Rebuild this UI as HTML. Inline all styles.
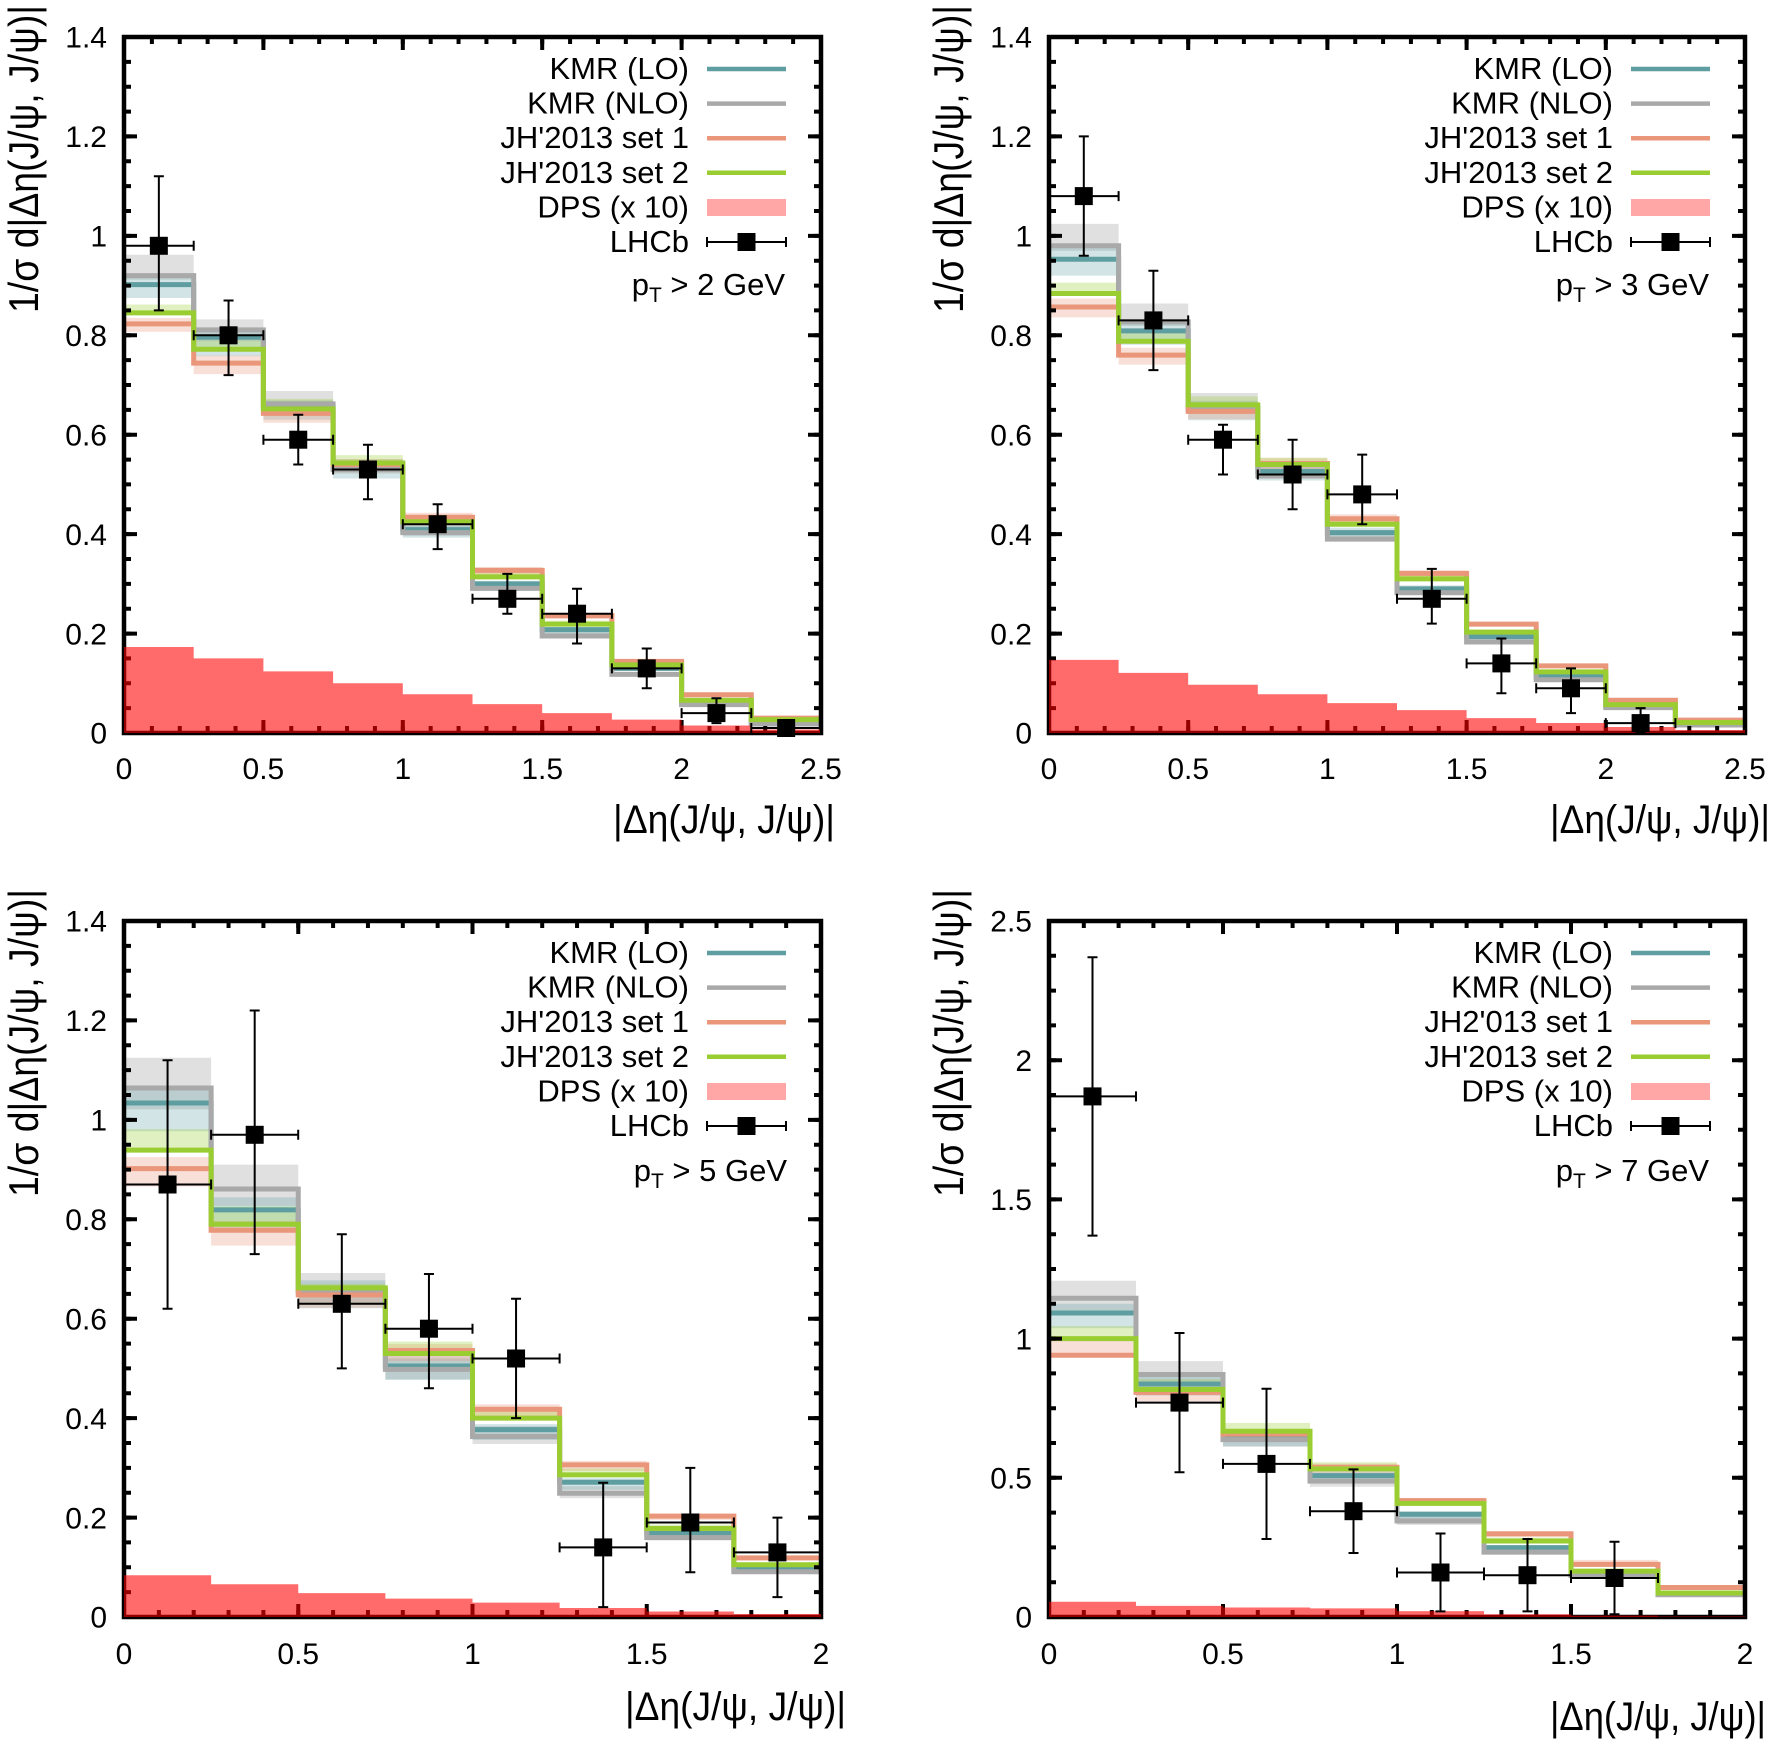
<!DOCTYPE html>
<html><head><meta charset="utf-8"><style>html,body{margin:0;padding:0;background:#fff}svg{display:block}</style></head>
<body>
<svg width="1773" height="1741" viewBox="0 0 1773 1741" xmlns="http://www.w3.org/2000/svg" font-family="'Liberation Sans', Arial, sans-serif">
<rect width="1773" height="1741" fill="#fff"/>

<!-- ============ PANEL A ============ -->
<g transform="translate(124,733) scale(278.8,-497.14)">
<path fill="rgba(160,160,160,0.32)" d="M0,.962H.25V.832H.5V.688H.75V.551H1V.419H1.25V.303H1.5V.203H1.75V.123H2V.059H2.25V.019H2.5V.017H2.25V.056H2V.116H1.75V.192H1.5V.287H1.25V.397H1V.522H.75V.652H.5V.788H.25V.912H0Z"/>
<path fill="rgba(95,158,160,0.28)" d="M0,.917H.25V.806H.5V.669H.75V.544H1V.417H1.25V.306H1.5V.212H1.75V.133H2V.063H2.25V.022H2.5V.021H2.25V.06H2V.125H1.75V.2H1.5V.288H1.25V.393H1V.512H.75V.63H.5V.758H.25V.875H0Z"/>
<path fill="rgba(233,150,122,0.3)" d="M0,.835H.25V.759H.5V.656H.75V.551H1V.443H1.25V.334H1.5V.241H1.75V.147H2V.079H2.25V.031H2.5V.029H2.25V.075H2V.14H1.75V.229H1.5V.317H1.25V.421H1V.524H.75V.624H.5V.722H.25V.807H0Z"/>
<path fill="rgba(154,205,50,0.3)" d="M0,.862H.25V.79H.5V.672H.75V.559H1V.438H1.25V.323H1.5V.226H1.75V.141H2V.068H2.25V.028H2.5V.027H2.25V.066H2V.137H1.75V.219H1.5V.314H1.25V.425H1V.543H.75V.652H.5V.772H.25V.845H0Z"/>
<g fill="none" stroke-width="5">
<path vector-effect="non-scaling-stroke" stroke="#5f9ea0" d="M0,.902H.25V.796H.5V.656H.75V.533H1V.409H1.25V.3H1.5V.208H1.75V.13H2V.062H2.25V.022H2.5"/>
<path vector-effect="non-scaling-stroke" stroke="#a9a9a9" d="M0,.92H.25V.811H.5V.662H.75V.53H1V.403H1.25V.291H1.5V.195H1.75V.118H2V.057H2.25V.018H2.5"/>
<path vector-effect="non-scaling-stroke" stroke="#e9967a" d="M0,.823H.25V.744H.5V.643H.75V.54H1V.434H1.25V.327H1.5V.236H1.75V.144H2V.077H2.25V.03H2.5"/>
<path vector-effect="non-scaling-stroke" stroke="#9acd32" d="M0,.845H.25V.772H.5V.652H.75V.543H1V.425H1.25V.314H1.5V.219H1.75V.137H2V.066H2.25V.027H2.5"/>
</g>
</g>
<g stroke="#000" fill="none">
<rect x="124" y="37" width="697" height="696" stroke-width="4.5"/>
<g stroke-width="7" stroke-dasharray="4 23.88" stroke-dashoffset="2"><line x1="124" y1="729.5" x2="821" y2="729.5"/><line x1="124" y1="40.5" x2="821" y2="40.5"/></g>
<g stroke-width="13" stroke-dasharray="4 135.4" stroke-dashoffset="2"><line x1="124" y1="726.5" x2="821" y2="726.5"/><line x1="124" y1="43.5" x2="821" y2="43.5"/></g>
<g stroke-width="7" stroke-dasharray="4 20.857" stroke-dashoffset="2"><line x1="127.5" y1="733" x2="127.5" y2="37"/><line x1="817.5" y1="733" x2="817.5" y2="37"/></g>
<g stroke-width="13" stroke-dasharray="4 95.43" stroke-dashoffset="2"><line x1="130.5" y1="733" x2="130.5" y2="37"/><line x1="814.5" y1="733" x2="814.5" y2="37"/></g>
</g>
<path transform="translate(124,733) scale(278.8,-497.14)" fill="rgba(255,0,0,0.58)" d="M0,0V.173H.25V.15H.5V.124H.75V.1H1V.078H1.25V.058H1.5V.04H1.75V.027H2V.015H2.25V.007H2.5V0Z"/>
<path fill="none" stroke="#000" stroke-width="2" d="M124,240.8v10m0,-5h69.7m0,-5v10M158.85,176.2V310.4M153.85,176.2h10M153.85,310.4h10
M193.7,330.3v10m0,-5h69.7m0,-5v10M228.55,300.5V375.1M223.55,300.5h10M223.55,375.1h10
M263.4,434.7v10m0,-5h69.7m0,-5v10M298.25,414.8V464.5M293.25,414.8h10M293.25,464.5h10
M333.1,464.5v10m0,-5h69.7m0,-5v10M367.95,444.7V499.3M362.95,444.7h10M362.95,499.3h10
M402.8,519.2v10m0,-5h69.7m0,-5v10M437.65,504.3V549.1M432.65,504.3h10M432.65,549.1h10
M472.5,593.8v10m0,-5h69.7m0,-5v10M507.35,573.9V613.7M502.35,573.9h10M502.35,613.7h10
M542.2,608.7v10m0,-5h69.7m0,-5v10M577.05,588.8V643.5M572.05,588.8h10M572.05,643.5h10
M611.9,663.4v10m0,-5h69.7m0,-5v10M646.75,648.5V688.3M641.75,648.5h10M641.75,688.3h10
M681.6,708.1v10m0,-5h69.7m0,-5v10M716.45,698.2V723.1M711.45,698.2h10M711.45,723.1h10
M751.3,723v10m0,-5h69.7m0,-5v10M786.15,723.1V733M781.15,723.1h10M781.15,733h10"/>
<g fill="#000">
<rect x="149.85" y="236.8" width="18" height="18"/><rect x="219.55" y="326.3" width="18" height="18"/><rect x="289.25" y="430.7" width="18" height="18"/><rect x="358.95" y="460.5" width="18" height="18"/><rect x="428.65" y="515.2" width="18" height="18"/><rect x="498.35" y="589.8" width="18" height="18"/><rect x="568.05" y="604.7" width="18" height="18"/><rect x="637.75" y="659.4" width="18" height="18"/><rect x="707.45" y="704.1" width="18" height="18"/><rect x="777.15" y="719" width="18" height="18"/>
</g>
<g font-size="30" fill="#000" text-anchor="end">
<text x="107" y="743.7">0</text><text x="107" y="644.3">0.2</text><text x="107" y="544.8">0.4</text><text x="107" y="445.4">0.6</text><text x="107" y="346">0.8</text><text x="107" y="246.6">1</text><text x="107" y="147.1">1.2</text><text x="107" y="47.7">1.4</text>
</g>
<g font-size="30" fill="#000" text-anchor="middle">
<text x="124" y="779">0</text><text x="263.4" y="779">0.5</text><text x="402.8" y="779">1</text><text x="542.2" y="779">1.5</text><text x="681.6" y="779">2</text><text x="821" y="779">2.5</text>
</g>
<text x="835" y="833" font-size="40" text-anchor="end" textLength="222" lengthAdjust="spacingAndGlyphs">|Δη(J/ψ, J/ψ)|</text>
<text transform="translate(38,159) rotate(-90)" font-size="42" text-anchor="middle" textLength="308" lengthAdjust="spacingAndGlyphs">1/σ d|Δη(J/ψ, J/ψ)|</text>
<g transform="translate(821,37)">
<g font-size="31" text-anchor="end" fill="#000">
<text x="-132" y="42">KMR (LO)</text><text x="-132" y="76.6">KMR (NLO)</text><text x="-132" y="111.2">JH'2013 set 1</text><text x="-132" y="145.8">JH'2013 set 2</text><text x="-132" y="180.4">DPS (x 10)</text><text x="-132" y="215">LHCb</text>
<text x="-36" y="258">p<tspan font-size="21" dy="7">T</tspan><tspan dy="-7"> &gt; 2 GeV</tspan></text>
</g>
<g stroke-width="4.5"><line x1="-114" y1="32" x2="-35" y2="32" stroke="#5f9ea0"/><line x1="-114" y1="66.6" x2="-35" y2="66.6" stroke="#a9a9a9"/><line x1="-114" y1="101.2" x2="-35" y2="101.2" stroke="#e9967a"/><line x1="-114" y1="135.8" x2="-35" y2="135.8" stroke="#9acd32"/></g>
<rect x="-114" y="162" width="79" height="17" fill="#ffa6a6"/>
<path d="M-114,205H-35M-114,200v10M-35,200v10" stroke="#000" stroke-width="2" fill="none"/>
<rect x="-83.5" y="196" width="18" height="18" fill="#000"/>
</g>

<!-- ============ PANEL B ============ -->
<g transform="translate(1049,733) scale(278.4,-497.14)">
<path fill="rgba(160,160,160,0.32)" d="M0,1.024H.25V.864H.5V.684H.75V.54H1V.408H1.25V.295H1.5V.191H1.75V.112H2V.053H2.25V.017H2.5V.016H2.25V.05H2V.106H1.75V.181H1.5V.279H1.25V.386H1V.512H.75V.648H.5V.819H.25V.97H0Z"/>
<path fill="rgba(95,158,160,0.28)" d="M0,.977H.25V.829H.5V.668H.75V.539H1V.413H1.25V.297H1.5V.199H1.75V.117H2V.055H2.25V.018H2.5V.017H2.25V.052H2V.11H1.75V.187H1.5V.28H1.25V.389H1V.508H.75V.629H.5V.781H.25V.92H0Z"/>
<path fill="rgba(233,150,122,0.3)" d="M0,.874H.25V.775H.5V.66H.75V.553H1V.44H1.25V.327H1.5V.223H1.75V.138H2V.067H2.25V.027H2.5V.025H2.25V.064H2V.132H1.75V.214H1.5V.313H1.25V.42H1V.528H.75V.631H.5V.741H.25V.836H0Z"/>
<path fill="rgba(154,205,50,0.3)" d="M0,.906H.25V.808H.5V.677H.75V.554H1V.431H1.25V.318H1.5V.208H1.75V.126H2V.058H2.25V.022H2.5V.021H2.25V.057H2V.123H1.75V.203H1.5V.31H1.25V.42H1V.54H.75V.66H.5V.788H.25V.884H0Z"/>
<g fill="none" stroke-width="5">
<path vector-effect="non-scaling-stroke" stroke="#5f9ea0" d="M0,.953H.25V.809H.5V.652H.75V.526H1V.403H1.25V.29H1.5V.194H1.75V.114H2V.054H2.25V.018H2.5"/>
<path vector-effect="non-scaling-stroke" stroke="#a9a9a9" d="M0,.98H.25V.827H.5V.655H.75V.517H1V.39H1.25V.282H1.5V.183H1.75V.107H2V.051H2.25V.016H2.5"/>
<path vector-effect="non-scaling-stroke" stroke="#e9967a" d="M0,.857H.25V.76H.5V.647H.75V.542H1V.431H1.25V.321H1.5V.219H1.75V.135H2V.066H2.25V.026H2.5"/>
<path vector-effect="non-scaling-stroke" stroke="#9acd32" d="M0,.884H.25V.788H.5V.66H.75V.54H1V.42H1.25V.31H1.5V.203H1.75V.123H2V.057H2.25V.021H2.5"/>
</g>
</g>
<g stroke="#000" fill="none">
<rect x="1049" y="37" width="696" height="696" stroke-width="4.5"/>
<g stroke-width="7" stroke-dasharray="4 23.84" stroke-dashoffset="2"><line x1="1049" y1="729.5" x2="1745" y2="729.5"/><line x1="1049" y1="40.5" x2="1745" y2="40.5"/></g>
<g stroke-width="13" stroke-dasharray="4 135.2" stroke-dashoffset="2"><line x1="1049" y1="726.5" x2="1745" y2="726.5"/><line x1="1049" y1="43.5" x2="1745" y2="43.5"/></g>
<g stroke-width="7" stroke-dasharray="4 20.857" stroke-dashoffset="2"><line x1="1052.5" y1="733" x2="1052.5" y2="37"/><line x1="1741.5" y1="733" x2="1741.5" y2="37"/></g>
<g stroke-width="13" stroke-dasharray="4 95.43" stroke-dashoffset="2"><line x1="1055.5" y1="733" x2="1055.5" y2="37"/><line x1="1738.5" y1="733" x2="1738.5" y2="37"/></g>
</g>
<path transform="translate(1049,733) scale(278.4,-497.14)" fill="rgba(255,0,0,0.58)" d="M0,0V.147H.25V.121H.5V.097H.75V.078H1V.06H1.25V.046H1.5V.03H1.75V.02H2V.012H2.25V.006H2.5V0Z"/>
<path fill="none" stroke="#000" stroke-width="2" d="M1049,191.1v10m0,-5h69.6m0,-5v10M1083.8,136.4V255.7M1078.8,136.4h10M1078.8,255.7h10
M1118.6,315.4v10m0,-5h69.6m0,-5v10M1153.4,270.7V370.1M1148.4,270.7h10M1148.4,370.1h10
M1188.2,434.7v10m0,-5h69.6m0,-5v10M1223,424.8V474.5M1218,424.8h10M1218,474.5h10
M1257.8,469.5v10m0,-5h69.6m0,-5v10M1292.6,439.7V509.3M1287.6,439.7h10M1287.6,509.3h10
M1327.4,489.4v10m0,-5h69.6m0,-5v10M1362.2,454.6V524.2M1357.2,454.6h10M1357.2,524.2h10
M1397,593.8v10m0,-5h69.6m0,-5v10M1431.8,568.9V623.6M1426.8,568.9h10M1426.8,623.6h10
M1466.6,658.4v10m0,-5h69.6m0,-5v10M1501.4,638.5V693.2M1496.4,638.5h10M1496.4,693.2h10
M1536.2,683.3v10m0,-5h69.6m0,-5v10M1571,668.4V713.1M1566,668.4h10M1566,713.1h10
M1605.8,718.1v10m0,-5h69.6m0,-5v10M1640.6,708.1V733M1635.6,708.1h10M1635.6,733h10"/>
<g fill="#000">
<rect x="1074.8" y="187.1" width="18" height="18"/><rect x="1144.4" y="311.4" width="18" height="18"/><rect x="1214" y="430.7" width="18" height="18"/><rect x="1283.6" y="465.5" width="18" height="18"/><rect x="1353.2" y="485.4" width="18" height="18"/><rect x="1422.8" y="589.8" width="18" height="18"/><rect x="1492.4" y="654.4" width="18" height="18"/><rect x="1562" y="679.3" width="18" height="18"/><rect x="1631.6" y="714.1" width="18" height="18"/>
</g>
<g font-size="30" fill="#000" text-anchor="end">
<text x="1032" y="743.7">0</text><text x="1032" y="644.3">0.2</text><text x="1032" y="544.8">0.4</text><text x="1032" y="445.4">0.6</text><text x="1032" y="346">0.8</text><text x="1032" y="246.6">1</text><text x="1032" y="147.1">1.2</text><text x="1032" y="47.7">1.4</text>
</g>
<g font-size="30" fill="#000" text-anchor="middle">
<text x="1049" y="779">0</text><text x="1188.2" y="779">0.5</text><text x="1327.4" y="779">1</text><text x="1466.6" y="779">1.5</text><text x="1605.8" y="779">2</text><text x="1745" y="779">2.5</text>
</g>
<text x="1770" y="833" font-size="40" text-anchor="end" textLength="220" lengthAdjust="spacingAndGlyphs">|Δη(J/ψ, J/ψ)|</text>
<text transform="translate(963,159) rotate(-90)" font-size="42" text-anchor="middle" textLength="308" lengthAdjust="spacingAndGlyphs">1/σ d|Δη(J/ψ, J/ψ)|</text>
<g transform="translate(1745,37)">
<g font-size="31" text-anchor="end" fill="#000">
<text x="-132" y="42">KMR (LO)</text><text x="-132" y="76.6">KMR (NLO)</text><text x="-132" y="111.2">JH'2013 set 1</text><text x="-132" y="145.8">JH'2013 set 2</text><text x="-132" y="180.4">DPS (x 10)</text><text x="-132" y="215">LHCb</text>
<text x="-36" y="258">p<tspan font-size="21" dy="7">T</tspan><tspan dy="-7"> &gt; 3 GeV</tspan></text>
</g>
<g stroke-width="4.5"><line x1="-114" y1="32" x2="-35" y2="32" stroke="#5f9ea0"/><line x1="-114" y1="66.6" x2="-35" y2="66.6" stroke="#a9a9a9"/><line x1="-114" y1="101.2" x2="-35" y2="101.2" stroke="#e9967a"/><line x1="-114" y1="135.8" x2="-35" y2="135.8" stroke="#9acd32"/></g>
<rect x="-114" y="162" width="79" height="17" fill="#ffa6a6"/>
<path d="M-114,205H-35M-114,200v10M-35,200v10" stroke="#000" stroke-width="2" fill="none"/>
<rect x="-83.5" y="196" width="18" height="18" fill="#000"/>
</g>

<!-- ============ PANEL C ============ -->
<g transform="translate(124,1617) scale(348.5,-497.14)">
<path fill="rgba(160,160,160,0.32)" d="M0,1.125H.25V.91H.5V.692H.75V.526H1V.384H1.25V.263H1.5V.169H1.75V.096H2V.087H1.75V.154H1.5V.239H1.25V.348H1V.478H.75V.629H.5V.827H.25V1.021H0Z"/>
<path fill="rgba(95,158,160,0.28)" d="M0,1.065H.25V.844H.5V.677H.75V.52H1V.388H1.25V.279H1.5V.175H1.75V.101H2V.093H1.75V.161H1.5V.256H1.25V.356H1V.477H.75V.621H.5V.774H.25V.977H0Z"/>
<path fill="rgba(233,150,122,0.3)" d="M0,.925H.25V.797H.5V.664H.75V.549H1V.428H1.25V.314H1.5V.208H1.75V.122H2V.114H1.75V.195H1.5V.294H1.25V.401H1V.515H.75V.622H.5V.747H.25V.866H0Z"/>
<path fill="rgba(154,205,50,0.3)" d="M0,.981H.25V.826H.5V.67H.75V.554H1V.418H1.25V.299H1.5V.186H1.75V.11H2V.105H1.75V.178H1.5V.286H1.25V.4H1V.53H.75V.662H.5V.79H.25V.939H0Z"/>
<g fill="none" stroke-width="5">
<path vector-effect="non-scaling-stroke" stroke="#5f9ea0" d="M0,1.034H.25V.819H.5V.657H.75V.505H1V.377H1.25V.271H1.5V.17H1.75V.098H2"/>
<path vector-effect="non-scaling-stroke" stroke="#a9a9a9" d="M0,1.064H.25V.861H.5V.655H.75V.498H1V.363H1.25V.249H1.5V.16H1.75V.091H2"/>
<path vector-effect="non-scaling-stroke" stroke="#e9967a" d="M0,.902H.25V.778H.5V.648H.75V.536H1V.418H1.25V.306H1.5V.203H1.75V.119H2"/>
<path vector-effect="non-scaling-stroke" stroke="#9acd32" d="M0,.939H.25V.79H.5V.662H.75V.53H1V.4H1.25V.286H1.5V.178H1.75V.105H2"/>
</g>
</g>
<g stroke="#000" fill="none">
<rect x="124" y="921" width="697" height="696" stroke-width="4.5"/>
<g stroke-width="7" stroke-dasharray="4 30.85" stroke-dashoffset="2"><line x1="124" y1="1613.5" x2="821" y2="1613.5"/><line x1="124" y1="924.5" x2="821" y2="924.5"/></g>
<g stroke-width="13" stroke-dasharray="4 170.25" stroke-dashoffset="2"><line x1="124" y1="1610.5" x2="821" y2="1610.5"/><line x1="124" y1="927.5" x2="821" y2="927.5"/></g>
<g stroke-width="7" stroke-dasharray="4 20.857" stroke-dashoffset="2"><line x1="127.5" y1="1617" x2="127.5" y2="921"/><line x1="817.5" y1="1617" x2="817.5" y2="921"/></g>
<g stroke-width="13" stroke-dasharray="4 95.43" stroke-dashoffset="2"><line x1="130.5" y1="1617" x2="130.5" y2="921"/><line x1="814.5" y1="1617" x2="814.5" y2="921"/></g>
</g>
<path transform="translate(124,1617) scale(348.5,-497.14)" fill="rgba(255,0,0,0.58)" d="M0,0V.084H.25V.066H.5V.048H.75V.037H1V.029H1.25V.018H1.5V.011H1.75V.006H2V0Z"/>
<path fill="none" stroke="#000" stroke-width="2" d="M124,1179.5v10m0,-5h87.1m0,-5v10M167.56,1060.2V1308.8M162.56,1060.2h10M162.56,1308.8h10
M211.1,1129.8v10m0,-5h87.1m0,-5v10M254.69,1010.5V1254.1M249.69,1010.5h10M249.69,1254.1h10
M298.3,1298.8v10m0,-5h87.1m0,-5v10M341.81,1234.2V1368.4M336.81,1234.2h10M336.81,1368.4h10
M385.4,1323.7v10m0,-5h87.1m0,-5v10M428.94,1274V1388.3M423.94,1274h10M423.94,1388.3h10
M472.5,1353.5v10m0,-5h87.1m0,-5v10M516.06,1298.8V1418.1M511.06,1298.8h10M511.06,1418.1h10
M559.6,1542.4v10m0,-5h87.1m0,-5v10M603.19,1482.8V1607.1M598.19,1482.8h10M598.19,1607.1h10
M646.8,1517.5v10m0,-5h87.1m0,-5v10M690.31,1467.9V1572.3M685.31,1467.9h10M685.31,1572.3h10
M733.9,1547.4v10m0,-5h87.1m0,-5v10M777.44,1517.6V1597.1M772.44,1517.6h10M772.44,1597.1h10"/>
<g fill="#000">
<rect x="158.56" y="1175.5" width="18" height="18"/><rect x="245.69" y="1125.8" width="18" height="18"/><rect x="332.81" y="1294.8" width="18" height="18"/><rect x="419.94" y="1319.7" width="18" height="18"/><rect x="507.06" y="1349.5" width="18" height="18"/><rect x="594.19" y="1538.4" width="18" height="18"/><rect x="681.31" y="1513.5" width="18" height="18"/><rect x="768.44" y="1543.4" width="18" height="18"/>
</g>
<g font-size="30" fill="#000" text-anchor="end">
<text x="107" y="1627.7">0</text><text x="107" y="1528.3">0.2</text><text x="107" y="1428.8">0.4</text><text x="107" y="1329.4">0.6</text><text x="107" y="1230">0.8</text><text x="107" y="1130.6">1</text><text x="107" y="1031.1">1.2</text><text x="107" y="931.7">1.4</text>
</g>
<g font-size="30" fill="#000" text-anchor="middle">
<text x="124" y="1664">0</text><text x="298.25" y="1664">0.5</text><text x="472.5" y="1664">1</text><text x="646.75" y="1664">1.5</text><text x="821" y="1664">2</text>
</g>
<text x="846" y="1720" font-size="40" text-anchor="end" textLength="221" lengthAdjust="spacingAndGlyphs">|Δη(J/ψ, J/ψ)|</text>
<text transform="translate(38,1043) rotate(-90)" font-size="42" text-anchor="middle" textLength="308" lengthAdjust="spacingAndGlyphs">1/σ d|Δη(J/ψ, J/ψ)|</text>
<g transform="translate(821,921)">
<g font-size="31" text-anchor="end" fill="#000">
<text x="-132" y="42">KMR (LO)</text><text x="-132" y="76.6">KMR (NLO)</text><text x="-132" y="111.2">JH'2013 set 1</text><text x="-132" y="145.8">JH'2013 set 2</text><text x="-132" y="180.4">DPS (x 10)</text><text x="-132" y="215">LHCb</text>
<text x="-34" y="260">p<tspan font-size="21" dy="7">T</tspan><tspan dy="-7"> &gt; 5 GeV</tspan></text>
</g>
<g stroke-width="4.5"><line x1="-114" y1="32" x2="-35" y2="32" stroke="#5f9ea0"/><line x1="-114" y1="66.6" x2="-35" y2="66.6" stroke="#a9a9a9"/><line x1="-114" y1="101.2" x2="-35" y2="101.2" stroke="#e9967a"/><line x1="-114" y1="135.8" x2="-35" y2="135.8" stroke="#9acd32"/></g>
<rect x="-114" y="162" width="79" height="17" fill="#ffa6a6"/>
<path d="M-114,205H-35M-114,200v10M-35,200v10" stroke="#000" stroke-width="2" fill="none"/>
<rect x="-83.5" y="196" width="18" height="18" fill="#000"/>
</g>

<!-- ============ PANEL D ============ -->
<g transform="translate(1049,1617) scale(348,-278.4)">
<path fill="rgba(160,160,160,0.32)" d="M0,1.208H.25V.919H.5V.672H.75V.515H1V.364H1.25V.246H1.5V.157H1.75V.084H2V.077H1.75V.143H1.5V.224H1.25V.331H1V.468H.75V.612H.5V.836H.25V1.099H0Z"/>
<path fill="rgba(95,158,160,0.28)" d="M0,1.125H.25V.862H.5V.664H.75V.523H1V.38H1.25V.256H1.5V.165H1.75V.088H2V.081H1.75V.152H1.5V.237H1.25V.351H1V.483H.75V.613H.5V.795H.25V1.037H0Z"/>
<path fill="rgba(233,150,122,0.3)" d="M0,1H.25V.827H.5V.673H.75V.551H1V.428H1.25V.306H1.5V.205H1.75V.112H2V.102H1.75V.181H1.5V.287H1.25V.401H1V.516H.75V.631H.5V.775H.25V.935H0Z"/>
<path fill="rgba(154,205,50,0.3)" d="M0,1.045H.25V.854H.5V.697H.75V.556H1V.426H1.25V.285H1.5V.172H1.75V.09H2V.086H1.75V.165H1.5V.273H1.25V.408H1V.532H.75V.667H.5V.817H.25V1H0Z"/>
<g fill="none" stroke-width="5">
<path vector-effect="non-scaling-stroke" stroke="#5f9ea0" d="M0,1.092H.25V.837H.5V.645H.75V.508H1V.369H1.25V.249H1.5V.16H1.75V.085H2"/>
<path vector-effect="non-scaling-stroke" stroke="#a9a9a9" d="M0,1.145H.25V.871H.5V.637H.75V.488H1V.345H1.25V.233H1.5V.149H1.75V.08H2"/>
<path vector-effect="non-scaling-stroke" stroke="#e9967a" d="M0,.94H.25V.807H.5V.657H.75V.538H1V.418H1.25V.299H1.5V.189H1.75V.106H2"/>
<path vector-effect="non-scaling-stroke" stroke="#9acd32" d="M0,1H.25V.817H.5V.667H.75V.532H1V.408H1.25V.273H1.5V.165H1.75V.086H2"/>
</g>
</g>
<g stroke="#000" fill="none">
<rect x="1049" y="921" width="696" height="696" stroke-width="4.5"/>
<g stroke-width="7" stroke-dasharray="4 30.8" stroke-dashoffset="2"><line x1="1049" y1="1613.5" x2="1745" y2="1613.5"/><line x1="1049" y1="924.5" x2="1745" y2="924.5"/></g>
<g stroke-width="13" stroke-dasharray="4 170" stroke-dashoffset="2"><line x1="1049" y1="1610.5" x2="1745" y2="1610.5"/><line x1="1049" y1="927.5" x2="1745" y2="927.5"/></g>
<g stroke-width="7" stroke-dasharray="4 30.8" stroke-dashoffset="2"><line x1="1052.5" y1="1617" x2="1052.5" y2="921"/><line x1="1741.5" y1="1617" x2="1741.5" y2="921"/></g>
<g stroke-width="13" stroke-dasharray="4 135.2" stroke-dashoffset="2"><line x1="1055.5" y1="1617" x2="1055.5" y2="921"/><line x1="1738.5" y1="1617" x2="1738.5" y2="921"/></g>
</g>
<path transform="translate(1049,1617) scale(348,-278.4)" fill="rgba(255,0,0,0.58)" d="M0,0V.055H.25V.04H.5V.034H.75V.031H1V.021H1.25V.01H1.5V.005H1.75V.002H2V0Z"/>
<path fill="none" stroke="#000" stroke-width="2" d="M1049,1091.4v10m0,-5h87m0,-5v10M1092.5,957.2V1235.6M1087.5,957.2h10M1087.5,1235.6h10
M1136,1397.6v10m0,-5h87m0,-5v10M1179.5,1333V1472.2M1174.5,1333h10M1174.5,1472.2h10
M1223,1458.9v10m0,-5h87m0,-5v10M1266.5,1388.7V1539M1261.5,1388.7h10M1261.5,1539h10
M1310,1506.2v10m0,-5h87m0,-5v10M1353.5,1469.4V1553M1348.5,1469.4h10M1348.5,1553h10
M1397,1567.5v10m0,-5h87m0,-5v10M1440.5,1533.5V1611.4M1435.5,1533.5h10M1435.5,1611.4h10
M1484,1570.2v10m0,-5h87m0,-5v10M1527.5,1539V1611.4M1522.5,1539h10M1522.5,1611.4h10
M1571,1573v10m0,-5h87m0,-5v10M1614.5,1541.8V1614.2M1609.5,1541.8h10M1609.5,1614.2h10"/>
<g fill="#000">
<rect x="1083.5" y="1087.4" width="18" height="18"/><rect x="1170.5" y="1393.6" width="18" height="18"/><rect x="1257.5" y="1454.9" width="18" height="18"/><rect x="1344.5" y="1502.2" width="18" height="18"/><rect x="1431.5" y="1563.5" width="18" height="18"/><rect x="1518.5" y="1566.2" width="18" height="18"/><rect x="1605.5" y="1569" width="18" height="18"/>
</g>
<g font-size="30" fill="#000" text-anchor="end">
<text x="1032" y="1627.7">0</text><text x="1032" y="1488.5">0.5</text><text x="1032" y="1349.3">1</text><text x="1032" y="1210.1">1.5</text><text x="1032" y="1070.9">2</text><text x="1032" y="931.7">2.5</text>
</g>
<g font-size="30" fill="#000" text-anchor="middle">
<text x="1049" y="1664">0</text><text x="1223" y="1664">0.5</text><text x="1397" y="1664">1</text><text x="1571" y="1664">1.5</text><text x="1745" y="1664">2</text>
</g>
<text x="1766" y="1730" font-size="40" text-anchor="end" textLength="216" lengthAdjust="spacingAndGlyphs">|Δη(J/ψ, J/ψ)|</text>
<text transform="translate(963,1043) rotate(-90)" font-size="42" text-anchor="middle" textLength="308" lengthAdjust="spacingAndGlyphs">1/σ d|Δη(J/ψ, J/ψ)|</text>
<g transform="translate(1745,921)">
<g font-size="31" text-anchor="end" fill="#000">
<text x="-132" y="42">KMR (LO)</text><text x="-132" y="76.6">KMR (NLO)</text><text x="-132" y="111.2">JH2'013 set 1</text><text x="-132" y="145.8">JH'2013 set 2</text><text x="-132" y="180.4">DPS (x 10)</text><text x="-132" y="215">LHCb</text>
<text x="-36" y="260">p<tspan font-size="21" dy="7">T</tspan><tspan dy="-7"> &gt; 7 GeV</tspan></text>
</g>
<g stroke-width="4.5"><line x1="-114" y1="32" x2="-35" y2="32" stroke="#5f9ea0"/><line x1="-114" y1="66.6" x2="-35" y2="66.6" stroke="#a9a9a9"/><line x1="-114" y1="101.2" x2="-35" y2="101.2" stroke="#e9967a"/><line x1="-114" y1="135.8" x2="-35" y2="135.8" stroke="#9acd32"/></g>
<rect x="-114" y="162" width="79" height="17" fill="#ffa6a6"/>
<path d="M-114,205H-35M-114,200v10M-35,200v10" stroke="#000" stroke-width="2" fill="none"/>
<rect x="-83.5" y="196" width="18" height="18" fill="#000"/>
</g>
</svg>
</body></html>
